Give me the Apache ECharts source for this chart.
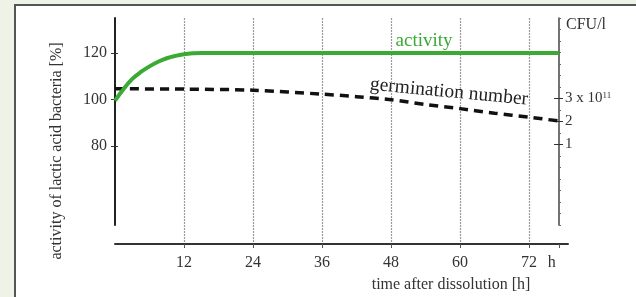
<!DOCTYPE html>
<html>
<head>
<meta charset="utf-8">
<script src="https://cdn.jsdelivr.net/npm/echarts@6/dist/echarts.min.js"></script>
<style>
html,body{margin:0;padding:0;background:#eef3e8;width:636px;height:297px;overflow:hidden;}
#panel{position:absolute;left:14px;top:4px;width:640px;height:300px;background:#fff;border-left:2px solid #555;border-top:2px solid #555;}
#chart{position:absolute;left:0;top:0;width:636px;height:297px;}
</style>
</head>
<body>
<div id="panel"></div>
<div id="chart"></div>
<script>
// ---- data ----
const activityHours = [0, 1.5, 3, 4.5, 6, 7.5, 9, 10.5, 12, 13.5, 15, 24, 36, 48, 60, 72, 77.2];
const activityValues = [99.5, 104.5, 108.8, 111.8, 114.2, 116.2, 117.7, 118.7, 119.4, 119.8, 120, 120, 120, 120, 120, 120, 120];
const germHours = [0, 12, 24, 36, 42, 48, 54, 60, 66, 72, 77.2];
const germValues = [3.42, 3.41, 3.36, 3.19, 3.08, 2.95, 2.74, 2.56, 2.36, 2.19, 2.02];
const xTickValues = [12, 24, 36, 48, 60, 72, 77.2];
const leftTickValues = [80, 100, 120];
const rightTickValues = [1, 2, 3];

const serif = 'Liberation Serif';
const chart = echarts.init(document.getElementById('chart'), null, {renderer: 'canvas'});

const option = {
  backgroundColor: 'transparent',
  animation: false,
  grid: [
    {left: 115, right: 77, top: 18, bottom: 72},
    {left: 115, right: 68, top: 18, bottom: 53}
  ],
  xAxis: [
    {gridIndex: 0, type: 'value', min: 0, max: 77.2, position: 'bottom',
      axisLine: {show: false}, axisTick: {show: false}, axisLabel: {show: false}, splitLine: {show: false}},
    {gridIndex: 1, type: 'value', min: 0, max: 78.8, interval: 12, position: 'bottom',
      axisLine: {show: false}, axisTick: {show: false}, axisLabel: {show: false},
      splitLine: {show: true, showMinLine: false, showMaxLine: false,
        lineStyle: {color: '#9a9a9a', width: 1.2, type: [2, 1]}}},
    {gridIndex: 1, type: 'value', min: 0, max: 78.8, position: 'bottom',
      axisLine: {show: true, lineStyle: {color: '#333', width: 2}},
      axisTick: {show: true, customValues: xTickValues, length: 4, lineStyle: {color: '#555', width: 1}},
      axisLabel: {show: true, customValues: xTickValues, margin: 11,
        fontFamily: serif, fontSize: 16, color: '#333',
        formatter: v => v > 75 ? '{h|h}' : String(v),
        rich: {h: {fontFamily: serif, fontSize: 16, color: '#333', padding: [0, 14, 0, 0]}}},
      splitLine: {show: false}}
  ],
  yAxis: [
    {gridIndex: 0, type: 'value', min: 46, max: 135, position: 'left',
      axisLine: {show: true, lineStyle: {color: '#222', width: 2}},
      axisTick: {show: true, customValues: leftTickValues, length: 4, lineStyle: {color: '#333'}},
      axisLabel: {show: true, customValues: leftTickValues, margin: 8, fontFamily: serif, fontSize: 16, color: '#333'},
      splitLine: {show: false}},
    {gridIndex: 0, type: 'value', min: -2.5, max: 6.5, interval: 0.5, position: 'right',
      axisLine: {show: true, lineStyle: {color: '#444', width: 1.5}},
      axisTick: {show: true, length: 2, lineStyle: {color: '#666'}},
      axisLabel: {show: true, customValues: rightTickValues, margin: 6, fontFamily: serif, fontSize: 15, color: '#333',
        formatter: v => v === 3 ? '3 x 10{s|11}' : String(v),
        rich: {s: {fontFamily: serif, fontSize: 9, color: '#333', verticalAlign: 'top', padding: [0, 0, 6, 0]}}},
      splitLine: {show: false}},
    {gridIndex: 0, type: 'value', min: 46, max: 135, position: 'left',
      axisLine: {show: false},
      axisTick: {show: true, inside: true, customValues: leftTickValues, length: 3, lineStyle: {color: '#333'}},
      axisLabel: {show: false}, splitLine: {show: false}},
    {gridIndex: 0, type: 'value', min: -2.5, max: 6.5, position: 'right',
      axisLine: {show: false},
      axisTick: {show: true, inside: true, customValues: rightTickValues, length: 5, lineStyle: {color: '#333'}},
      axisLabel: {show: false}, splitLine: {show: false}},
    {gridIndex: 0, type: 'value', min: -2.5, max: 6.5, position: 'right',
      axisLine: {show: false},
      axisTick: {show: true, customValues: rightTickValues, length: 4, lineStyle: {color: '#333'}},
      axisLabel: {show: false}, splitLine: {show: false}},
    {gridIndex: 1, type: 'value', min: 0, max: 1,
      axisLine: {show: false}, axisTick: {show: false}, axisLabel: {show: false}, splitLine: {show: false}}
  ],
  series: [
    {type: 'line', name: 'germination number', xAxisIndex: 0, yAxisIndex: 1,
      data: germHours.map((h, i) => [h, germValues[i]]),
      smooth: 0.3, showSymbol: false, z: 3,
      lineStyle: {color: '#111', width: 3.5, type: [9, 6]}},
    {type: 'line', name: 'activity', xAxisIndex: 0, yAxisIndex: 0,
      data: activityHours.map((h, i) => [h, activityValues[i]]),
      smooth: 0.4, showSymbol: false, z: 4,
      lineStyle: {color: '#3aaa35', width: 4}}
  ],
  graphic: [
    {type: 'text', x: 57, y: 151, rotation: Math.PI / 2,
      style: {text: 'activity of lactic acid bacteria [%]', font: '16px "Liberation Serif"', fill: '#333', align: 'center', verticalAlign: 'middle'}},
    {type: 'text', x: 451, y: 285,
      style: {text: 'time after dissolution [h]', font: '16px "Liberation Serif"', fill: '#333', align: 'center', verticalAlign: 'middle'}},
    {type: 'text', x: 424, y: 41,
      style: {text: 'activity', font: '19px "Liberation Serif"', fill: '#3aaa35', align: 'center', verticalAlign: 'middle'}},
    {type: 'text', x: 449, y: 92, rotation: -0.095,
      style: {text: 'germination number', font: '19.5px "Liberation Serif"', fill: '#222', align: 'center', verticalAlign: 'middle'}},
    {type: 'text', x: 566, y: 25,
      style: {text: 'CFU/l', font: '16px "Liberation Serif"', fill: '#333', align: 'left', verticalAlign: 'middle'}}
  ]
};
chart.setOption(option);
</script>
</body>
</html>
